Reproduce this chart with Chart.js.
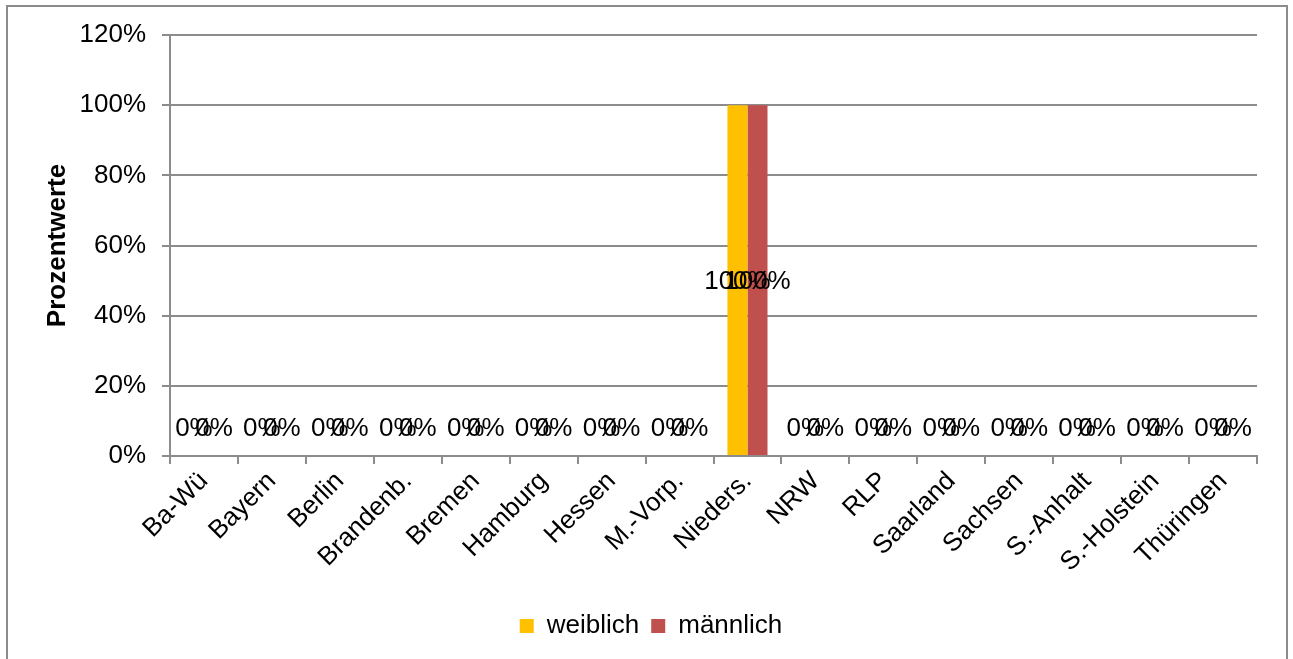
<!DOCTYPE html>
<html>
<head>
<meta charset="utf-8">
<script src="https://cdn.jsdelivr.net/npm/chart.js@4.4.1/dist/chart.umd.min.js"></script>
<style>
  html, body { margin: 0; padding: 0; background: #fff; }
  #wrap { position: relative; width: 1293px; height: 659px; }
</style>
</head>
<body>
<div id="wrap"><canvas id="c" width="1293" height="659"></canvas></div>
<script>
const categories = ["Ba-Wü", "Bayern", "Berlin", "Brandenb.", "Bremen", "Hamburg", "Hessen", "M.-Vorp.", "Nieders.", "NRW", "RLP", "Saarland", "Sachsen", "S.-Anhalt", "S.-Holstein", "Thüringen"];
const weiblich = [0, 0, 0, 0, 0, 0, 0, 0, 1, 0, 0, 0, 0, 0, 0, 0];
const maennlich = [0, 0, 0, 0, 0, 0, 0, 0, 1, 0, 0, 0, 0, 0, 0, 0];
const yTicks = [0, 0.2, 0.4, 0.6, 0.8, 1.0, 1.2];
const seriesNames = ["weiblich", "männlich"];

const FONT = "'Liberation Sans', Arial, sans-serif";
const FS = 26;
const GRID = "#8c8c8c";

const borderPlugin = {
  id: 'outerBorder',
  beforeDraw(chart) {
    const ctx = chart.ctx;
    ctx.save();
    ctx.strokeStyle = GRID;
    ctx.lineWidth = 2;
    ctx.beginPath();
    ctx.moveTo(7, 700);
    ctx.lineTo(7, 6);
    ctx.lineTo(1287, 6);
    ctx.lineTo(1287, 700);
    ctx.stroke();
    ctx.restore();
  }
};

const labelPlugin = {
  id: 'valueLabels',
  afterDatasetsDraw(chart) {
    const ctx = chart.ctx;
    ctx.save();
    ctx.font = FS + "px " + FONT;
    ctx.fillStyle = "#000";
    ctx.textAlign = "center";
    ctx.textBaseline = "middle";
    chart.data.datasets.forEach((ds, di) => {
      const meta = chart.getDatasetMeta(di);
      meta.data.forEach((el, i) => {
        const v = ds.data[i];
        const txt = Math.round(v * 100) + "%";
        let y;
        if (v > 0) y = (el.y + el.base) / 2 + 2;
        else y = el.base - 27;
        ctx.fillText(txt, el.x, y);
      });
    });
    ctx.restore();
  }
};

new Chart(document.getElementById('c'), {
  type: 'bar',
  data: {
    labels: categories,
    datasets: [
      { label: seriesNames[0], data: weiblich, backgroundColor: "#FFC000", categoryPercentage: 0.59, barPercentage: 1.0 },
      { label: seriesNames[1], data: maennlich, backgroundColor: "#C0504D", categoryPercentage: 0.59, barPercentage: 1.0 }
    ]
  },
  plugins: [borderPlugin, labelPlugin],
  options: {
    responsive: false,
    animation: false,
    events: [],
    layout: { padding: { left: 45, right: 36, top: 35, bottom: 10 } },
    plugins: {
      legend: {
        position: 'bottom',
        labels: {
          font: { family: FONT, size: FS },
          color: "#000",
          boxWidth: 14,
          boxHeight: 14,
          padding: 12,
          useBorderRadius: false
        }
      },
      tooltip: { enabled: false }
    },
    scales: {
      x: {
        offset: true,
        grid: { display: true, drawOnChartArea: false, drawTicks: true, tickLength: 8, color: GRID, lineWidth: 2, offset: true },
        border: { display: true, color: GRID, width: 2 },
        ticks: {
          font: { family: FONT, size: FS },
          color: "#000",
          maxRotation: 45,
          minRotation: 45,
          autoSkip: false,
          padding: 2
        },
        afterFit(scale) { scale.height = 145; }
      },
      y: {
        min: 0,
        max: 1.2,
        afterBuildTicks(scale) { scale.ticks = yTicks.map(v => ({ value: v })); },
        grid: { color: GRID, lineWidth: 2, drawTicks: true, tickLength: 8 },
        border: { display: true, color: GRID, width: 2 },
        ticks: {
          font: { family: FONT, size: FS },
          color: "#000",
          padding: 16,
          callback: (v) => Math.round(v * 100) + "%"
        },
        title: {
          display: true,
          text: "Prozentwerte",
          font: { family: FONT, size: FS, weight: 'bold' },
          color: "#000",
          padding: { top: -3, bottom: 0 }
        },
        afterFit(scale) { scale.width = 125; }
      }
    }
  }
});
</script>
</body>
</html>
